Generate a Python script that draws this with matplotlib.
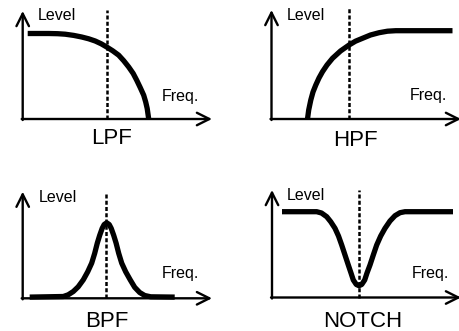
import matplotlib
matplotlib.use("Agg")
import matplotlib.pyplot as plt

plt.rcParams["font.family"] = ["Liberation Sans", "DejaVu Sans"]

FIG_W, FIG_H = 460, 331
DPI = 100

# Filter response shapes (frequency, level), in sketch units
lpf_freq = [5, 26, 35, 42.5, 51, 59, 66, 72.5, 78.5, 84, 90, 96, 101, 106, 110.5, 114,
            117.5, 121, 123, 124.5, 126]
lpf_level = [85.5, 85.5, 85.3, 84.8, 83.6, 82, 80.2, 78, 75.2, 72, 68.2, 63.8, 58.3, 52,
             45.5, 38.8, 31.5, 23.8, 17, 10.5, 0]

hpf_freq = [36, 37.2, 39.3, 41.5, 44.3, 47.5, 51, 55.5, 61, 69, 77.6, 84, 91, 99, 107.6,
            116, 124.3, 181]
hpf_level = [0, 9, 19, 27, 34, 41, 47.3, 54, 60.7, 68, 74, 77.8, 80.7, 84, 86.3, 87.8,
             88.3, 88.3]

bpf_freq = [7, 40.6, 45.5, 50.6, 55.5, 60.6, 65, 69, 72, 74.6, 77, 79.5, 81.5, 84, 86.5,
            88.5, 91, 93.4, 96, 99, 103, 107.5, 112, 117, 122, 128, 152]
bpf_level = [1.2, 1.8, 3.5, 6.8, 11.5, 18.5, 26.5, 35.2, 45, 55.2, 63, 70, 73.8, 75.5,
             73.8, 70, 63, 55.2, 45, 35.2, 26.5, 18.5, 11, 5.8, 2.8, 1.5, 1.2]

notch_freq = [10, 44.7, 49.5, 54.7, 58.7, 63, 66.5, 69.7, 73, 76.3, 79, 81.3, 84.3, 87,
              89.7, 92.7, 95, 98, 101.3, 104.7, 108.7, 113, 118, 123, 128, 133, 181]
notch_level = [85.8, 85.8, 84.5, 80.8, 75.8, 69.2, 61.5, 52.5, 42.5, 32.5, 24.5, 17.5, 13,
               11.8, 13, 17.5, 24.5, 32.5, 42.5, 52.5, 61.5, 69.2, 76.5, 81.8, 84.8,
               85.8, 85.8]

cutoff_freq = [84.5, 78, 83.5, 87]

panel_titles = ["LPF", "HPF", "BPF", "NOTCH"]
axis_y_label = "Level"
axis_x_label = "Freq."

# Panel origins (pixels from top-left) and text placement
origins = [(22.7, 119.0), (271.5, 119.0), (22.7, 298.3), (272.0, 297.5)]
y_tips = [108, 109, 106.6, 107.5]
x_tips = [189.3, 189.5, 189.3, 189.0]
level_pos = [(15.3, 99), (15.2, 99), (15.6, 96.8), (14.7, 97.5)]
freq_pos = [(139.3, 18), (138.5, 19), (139.3, 20), (140, 19.5)]
title_pos = [(89.3, -25), (83.5, -27.5), (84.0, -28.7), (90.5, -29.5)]
dash_top = [109, 111, 106.6, 107.5]

curves = [(lpf_freq, lpf_level), (hpf_freq, hpf_level),
          (bpf_freq, bpf_level), (notch_freq, notch_level)]

fig = plt.figure(figsize=(FIG_W / DPI, FIG_H / DPI), dpi=DPI)
fig.patch.set_facecolor("white")

PAD_L, PAD_B, W, H = 15, 35, 210, 150
arrow_style = "->,head_length=0.9,head_width=0.45"

for i, (ox, oy) in enumerate(origins):
    left = (ox - PAD_L) / FIG_W
    bottom = (FIG_H - oy - PAD_B) / FIG_H
    ax = fig.add_axes([left, bottom, W / FIG_W, H / FIG_H])
    ax.set_xlim(-PAD_L, W - PAD_L)
    ax.set_ylim(-PAD_B, H - PAD_B)
    ax.axis("off")
    ax.patch.set_alpha(0)

    # axes with open arrowheads
    ax.annotate("", xy=(x_tips[i], 0), xytext=(-1, 0),
                arrowprops=dict(arrowstyle=arrow_style, lw=1.7, color="black",
                                shrinkA=0, shrinkB=0, mutation_scale=10),
                annotation_clip=False)
    ax.annotate("", xy=(0, y_tips[i]), xytext=(0, -1),
                arrowprops=dict(arrowstyle=arrow_style, lw=1.7, color="black",
                                shrinkA=0, shrinkB=0, mutation_scale=10),
                annotation_clip=False)

    # cutoff / centre frequency marker
    ax.plot([cutoff_freq[i], cutoff_freq[i]], [0, dash_top[i]], color="black",
            lw=1.8, linestyle=(0, (1.6, 0.9)), clip_on=False)

    # response curve
    fx, lv = curves[i]
    ax.plot(fx, lv, color="black", lw=3.8, solid_capstyle="butt",
            solid_joinstyle="round", clip_on=False)

    ax.text(level_pos[i][0], level_pos[i][1], axis_y_label, fontsize=11.5,
            ha="left", va="baseline")
    ax.text(freq_pos[i][0], freq_pos[i][1], axis_x_label, fontsize=11.5,
            ha="left", va="baseline")
    ax.text(title_pos[i][0], title_pos[i][1], panel_titles[i], fontsize=16,
            ha="center", va="baseline")

fig.savefig("out.png", dpi=DPI, facecolor="white")
